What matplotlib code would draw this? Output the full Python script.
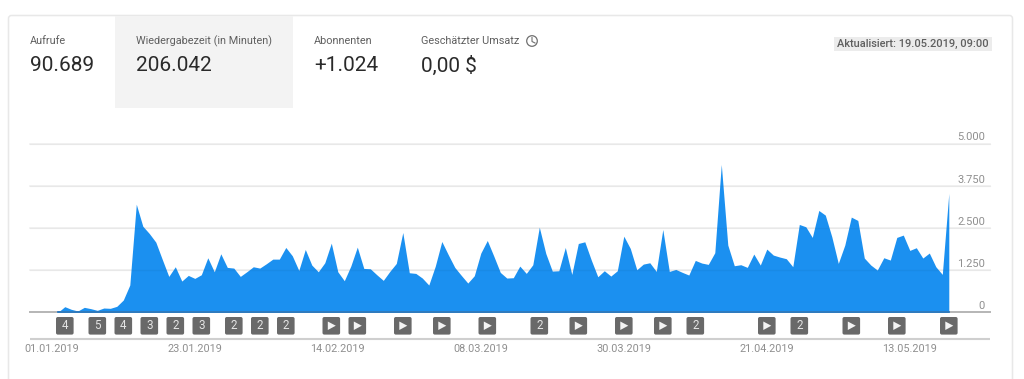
import matplotlib
matplotlib.use("Agg")
import matplotlib.pyplot as plt
from matplotlib.patches import FancyBboxPatch, Rectangle, Circle, Polygon

plt.rcParams['font.family'] = ['Roboto', 'DejaVu Sans']

W, H = 1024, 379

tab_labels = ["Aufrufe", "Wiedergabezeit (in Minuten)", "Abonnenten", "Geschätzter Umsatz"]
tab_values = ["90.689", "206.042", "+1.024", "0,00 $"]
updated = "Aktualisiert: 19.05.2019, 09:00"

minutes = [0, 0, 158, 79, 30, 138, 99, 49, 118, 109, 168, 355, 800, 3198, 2546, 2329, 2073, 1559,
           1056, 1342, 918, 1086, 997, 1105, 1609, 1194, 1727, 1323, 1303, 1056, 1194, 1342, 1303,
           1431, 1569, 1569, 1915, 1668, 1234, 1856, 1392, 1194, 1461, 2043, 1194, 928, 1362, 1925,
           1293, 1283, 1105, 938, 1204, 1441, 2359, 1165, 1145, 1007, 800, 1362, 2092, 1698, 1323,
           1086, 859, 1076, 1747, 2122, 1658, 1175, 1007, 1017, 1362, 1145, 1402, 2517, 1737, 1214,
           1224, 1915, 1115, 2033, 2083, 1540, 1046, 1224, 1066, 1224, 2250, 1885, 1253, 1421, 1461,
           1204, 2448, 1204, 1263, 1176, 1097, 1531, 1452, 1413, 1759, 4377, 1986, 1373, 1403, 1324,
           1719, 1393, 1867, 1689, 1630, 1581, 1344, 2598, 2529, 2213, 3013, 2875, 2233, 1442, 1986,
           2816, 2717, 1601, 1393, 1245, 1610, 1541, 2213, 2282, 1828, 1907, 1601, 1749, 1344, 1116,
           3517]
days = list(range(len(minutes)))

y_ticks = [0, 1250, 2500, 3750, 5000]
y_tick_labels = ["0", "1.250", "2.500", "3.750", "5.000"]
date_days = [0, 22, 44, 66, 88, 110, 132]
date_labels = ["01.01.2019", "23.01.2019", "14.02.2019", "08.03.2019",
               "30.03.2019", "21.04.2019", "13.05.2019"]
marker_days = [2, 7, 11, 15, 19, 23, 28, 32, 36, 43, 47, 54, 60, 67, 75, 81, 88, 94, 99, 110, 115, 123, 130, 138]
marker_labels = ["4", "5", "4", "3", "2", "3", "2", "2", "2", "", "", "", "", "", "2", "", "", "", "2", "", "2", "", "", ""]

fig = plt.figure(figsize=(W / 100, H / 100), dpi=100, facecolor="white")

# pixel-space overlay for the card
bg = fig.add_axes([0, 0, 1, 1])
bg.set_xlim(0, W); bg.set_ylim(H, 0); bg.axis("off")
bg.add_patch(FancyBboxPatch((8.5, 15.5), 1004, 420, boxstyle="round,pad=0,rounding_size=3",
                            fc="white", ec="#e8e8e8", lw=1.1))
bg.add_patch(Rectangle((115, 16), 178, 92, fc="#f3f3f3", ec="none"))

tab_x = [30, 136, 314, 421]
for x, lab, val in zip(tab_x, tab_labels, tab_values):
    bg.text(x, 41, lab, fontsize=7.8, color="#5f5f5f", va="center", ha="left")
    bg.text(x, 65.5, val, fontsize=15, color="#2a2a2a", va="center", ha="left")

bg.add_patch(Circle((532, 41), 5.3, fc="none", ec="#707070", lw=0.9))
bg.plot([532, 532, 535], [37.5, 41.5, 43], color="#707070", lw=0.8)

bg.add_patch(Rectangle((834, 37), 158, 14, fc="#ececec", ec="none"))
bg.text(837, 44, updated, fontsize=7.95, color="#5f5f5f", va="center", ha="left", fontweight="medium")

# chart axes: x in days, y in minutes
L, R, TOP, BASE = 30, 990, 143.5, 312
X0, STEP = 51.8, 6.5
ax = fig.add_axes([L / W, 1 - BASE / H, (R - L) / W, (BASE - TOP) / H])
ax.patch.set_alpha(0)
ax.set_xlim((L - X0) / STEP, (R - X0) / STEP)
ax.set_ylim(0, 5000)
for s in ax.spines.values():
    s.set_visible(False)
ax.set_xticks([]); ax.set_yticks([])
for v in y_ticks[1:]:
    ax.axhline(v, color="#f0f0f0", lw=1.2, zorder=1, clip_on=False)
ax.fill_between(days, minutes, 0, color="#1b90f0", lw=0, zorder=2)
for v in y_ticks[1:]:
    ax.axhline(v, color="black", alpha=0.04, lw=1.0, zorder=3, clip_on=False)
ax.axhline(0, color="#b5b5b5", lw=1.4, zorder=4, clip_on=False)
ax.plot(days[1:], [0] * len(days[1:]), color="#1670c0", lw=1.2, zorder=5, clip_on=False)

def px(day):
    return bg.transData.inverted().transform(ax.transData.transform((day, 0)))[0]

for v, t in zip(y_ticks, y_tick_labels):
    yp = bg.transData.inverted().transform(ax.transData.transform((0, v)))[1]
    bg.text(985, yp - 6, t, fontsize=8, color="#8f8f8f", ha="right", va="center")

# video markers
for d, t in zip(marker_days, marker_labels):
    c = px(d)
    bg.add_patch(FancyBboxPatch((c - 8.8, 317), 17.6, 17.6, boxstyle="round,pad=0,rounding_size=1.8",
                                fc="#696969", ec="none", zorder=5))
    if t:
        bg.text(c, 325.8, t, fontsize=8.4, color="#e4e4e4", ha="center", va="center", zorder=6)
    else:
        bg.add_patch(Polygon([(c - 3.5, 321.5), (c - 3.5, 330), (c + 4.5, 325.7)], closed=True,
                             fc="#f4f4f4", ec="none", zorder=6))

bg.plot([30, 990], [339, 339], color="#cfcfcf", lw=1.5, solid_capstyle="butt")
for d, t in zip(date_days, date_labels):
    bg.text(px(d), 348.8, t, fontsize=7.8, color="#8f8f8f", ha="center", va="center")

fig.savefig("out.png", dpi=100)
